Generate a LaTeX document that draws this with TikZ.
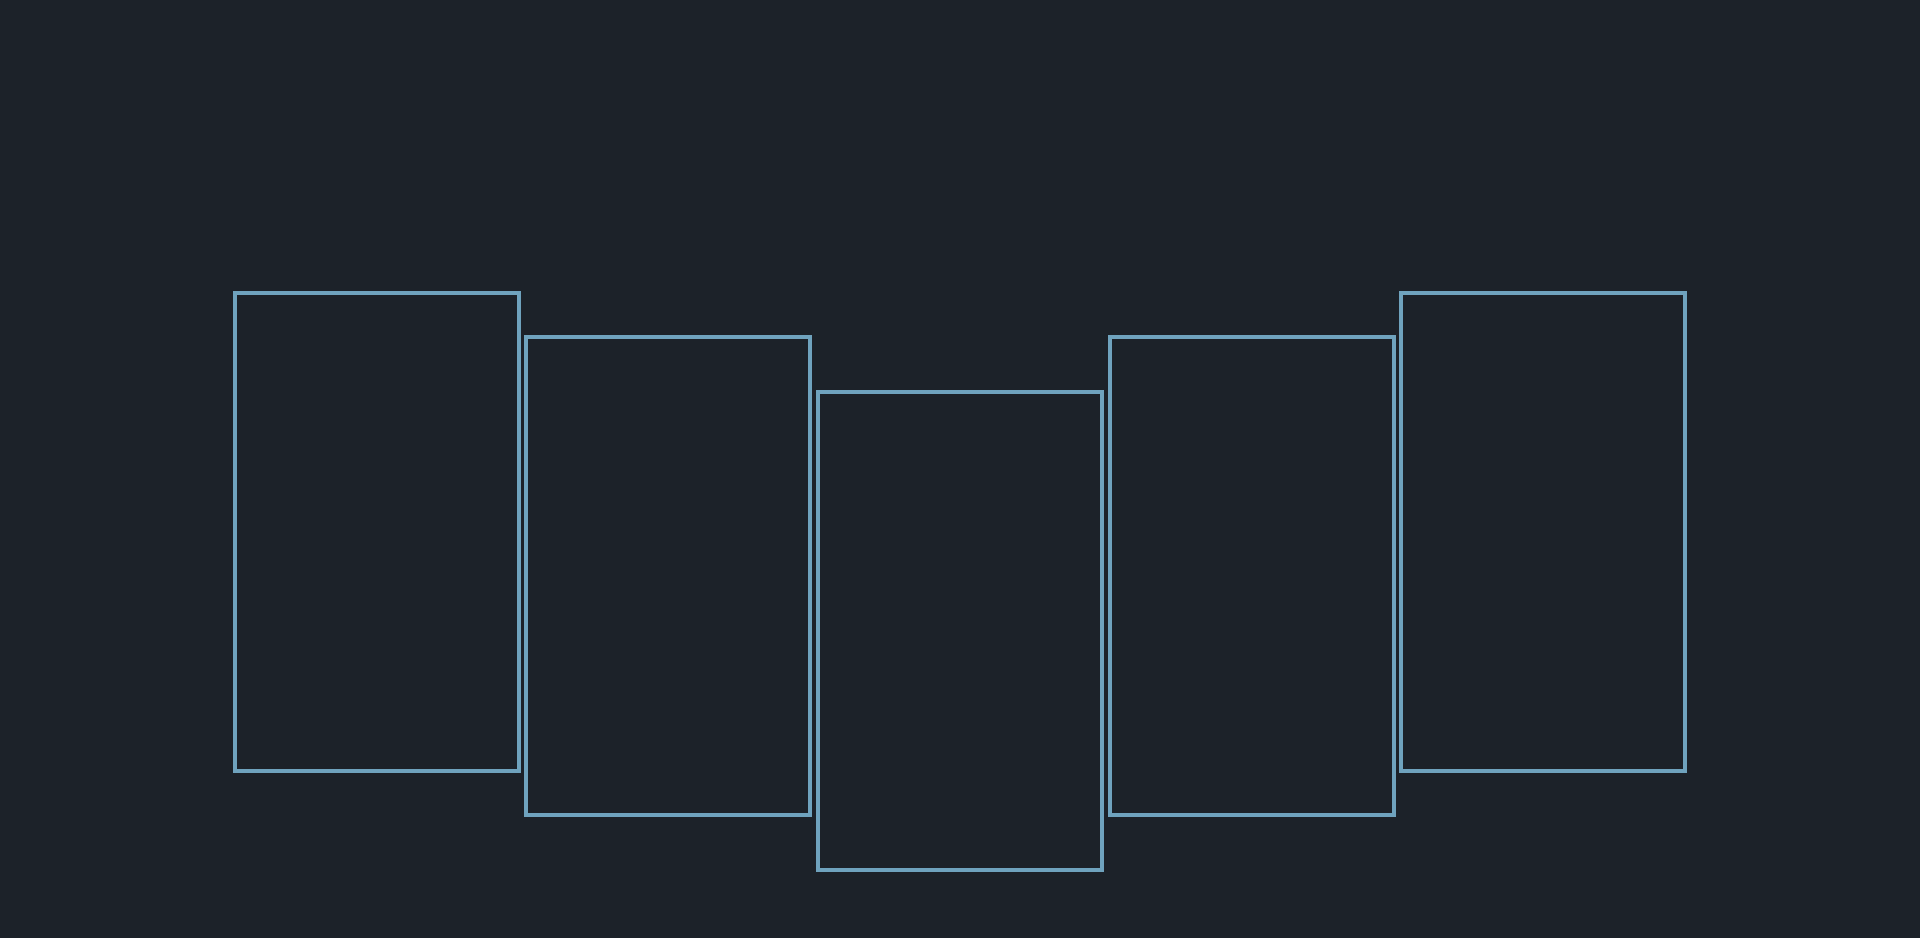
\documentclass[tikz,border=0pt]{standalone}
\usepackage{xcolor}
\usepackage{tikz}
\usetikzlibrary{positioning}
\definecolor{boardbg}{RGB}{28, 34, 41}
\definecolor{cardblue}{RGB}{111, 163, 190}

\begin{document}
\begin{tikzpicture}[
    x=1pt, y=-1pt,
    every node/.style={inner sep=0pt, outer sep=0pt},
    card/.style={draw=cardblue, line width=3.5pt, fill=boardbg,
        minimum width=284pt, minimum height=478pt}
]
    \fill[boardbg] (0,0) rectangle (1920,938);
    \useasboundingbox (0,0) rectangle (1920,938);
    \node[card] (cardA) at (377,532) {};
    \node[card] (cardB) at (668,576) {};
    \node[card] (cardC) at (960,631) {};
    \node[card] (cardD) at (1252,576) {};
    \node[card] (cardE) at (1543,532) {};
\end{tikzpicture}
\end{document}
